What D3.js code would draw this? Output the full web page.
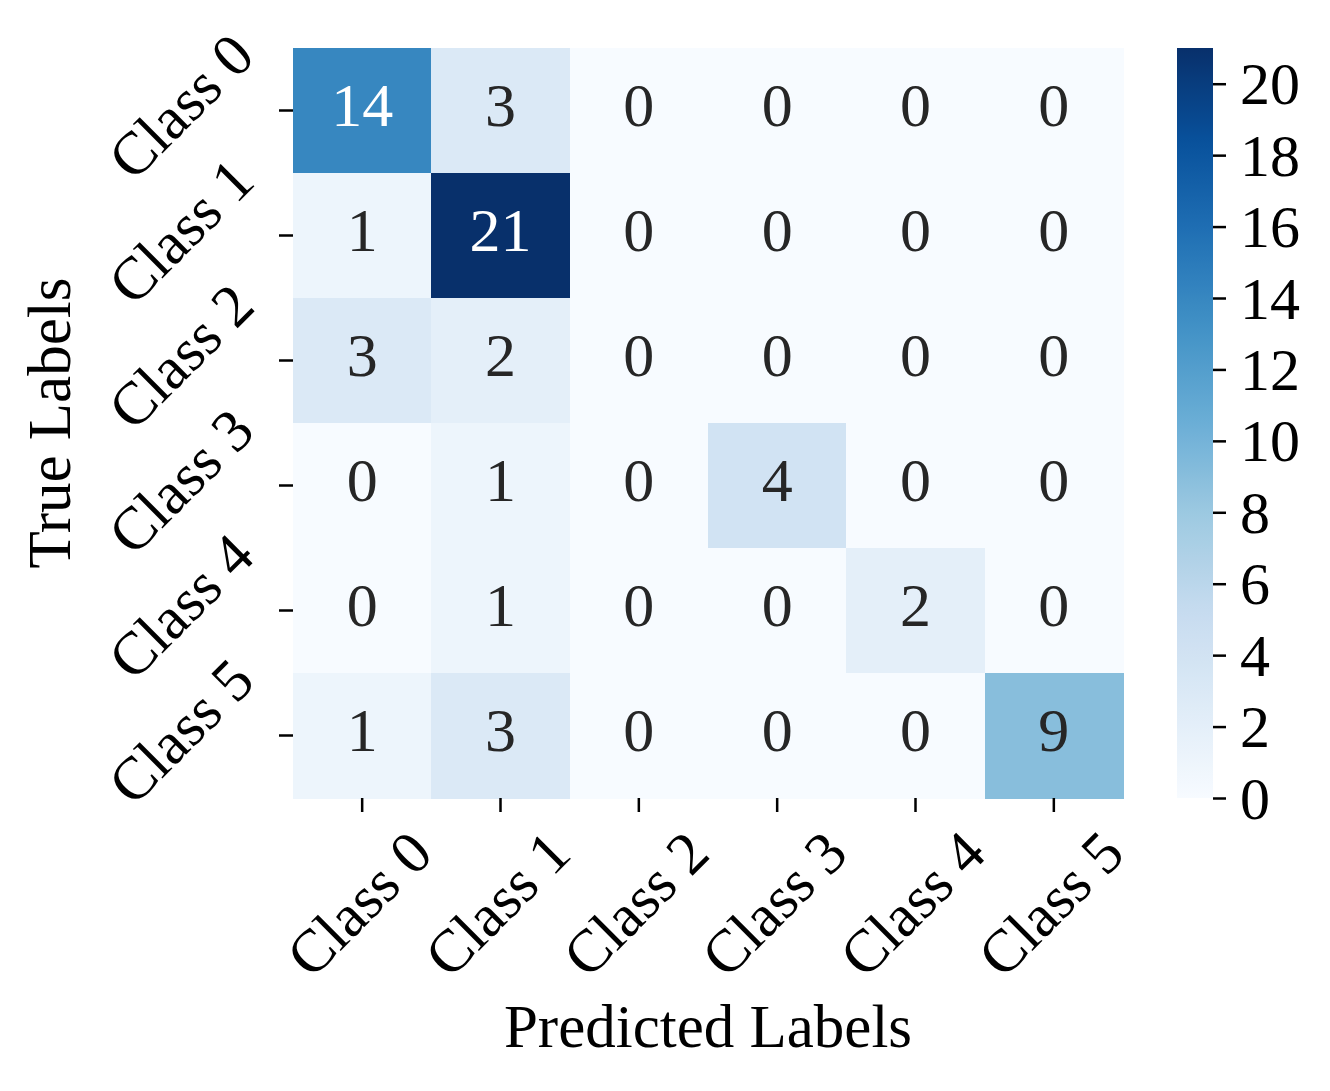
<!DOCTYPE html>
<html>
<head>
<meta charset="utf-8">
<script src="https://cdn.jsdelivr.net/npm/d3@7"></script>
<style>
  html, body { margin: 0; padding: 0; background: #ffffff; }
  svg { display: block; }
  text { font-family: "Liberation Serif", "Times New Roman", serif; }
</style>
</head>
<body>
<script>
// ---- Data ----
const predictedClasses = ["Class 0", "Class 1", "Class 2", "Class 3", "Class 4", "Class 5"];
const trueClasses = ["Class 0", "Class 1", "Class 2", "Class 3", "Class 4", "Class 5"];
const row0 = [14, 3, 0, 0, 0, 0];
const row1 = [1, 21, 0, 0, 0, 0];
const row2 = [3, 2, 0, 0, 0, 0];
const row3 = [0, 1, 0, 4, 0, 0];
const row4 = [0, 1, 0, 0, 2, 0];
const row5 = [1, 3, 0, 0, 0, 9];
const colorbarTicks = [0, 2, 4, 6, 8, 10, 12, 14, 16, 18, 20];
const xAxisTitle = "Predicted Labels";
const yAxisTitle = "True Labels";

const matrix = [row0, row1, row2, row3, row4, row5];
const vmin = 0, vmax = d3.max(matrix.flat());

// ---- Layout ----
const W = 1330, H = 1091;
const plot = { left: 293, right: 1123, top: 48, bottom: 798 };
const cbar = { left: 1177, right: 1213 };

const svg = d3.select("body").append("svg").attr("width", W).attr("height", H);

// matplotlib Blues (linear segmented over ColorBrewer 9)
const bluesStops = ["#f7fbff","#deebf7","#c6dbef","#9ecae1","#6baed6","#4292c6","#2171b5","#08519c","#08306b"];
const bluesScale = d3.scaleLinear()
  .domain(d3.range(bluesStops.length).map(i => i / (bluesStops.length - 1)))
  .range(bluesStops)
  .interpolate(d3.interpolateRgb)
  .clamp(true);
const color = v => bluesScale((v - vmin) / (vmax - vmin));

const x = d3.scaleBand().domain(predictedClasses).range([plot.left, plot.right]).padding(0);
const y = d3.scaleBand().domain(trueClasses).range([plot.top, plot.bottom]).padding(0);

const cells = [];
matrix.forEach((row, i) => row.forEach((v, j) => cells.push({ r: trueClasses[i], c: predictedClasses[j], v })));

svg.append("g").selectAll("rect").data(cells).join("rect")
  .attr("x", d => x(d.c))
  .attr("y", d => y(d.r))
  .attr("width", x.bandwidth() + 0.5)
  .attr("height", y.bandwidth() + 0.5)
  .attr("fill", d => color(d.v))
  .attr("shape-rendering", "crispEdges");

function textColor(v) {
  const c = d3.rgb(color(v));
  const lin = ch => { ch /= 255; return ch <= 0.03928 ? ch / 12.92 : Math.pow((ch + 0.055) / 1.055, 2.4); };
  const lum = 0.2126 * lin(c.r) + 0.7152 * lin(c.g) + 0.0722 * lin(c.b);
  return lum > 0.408 ? "#262626" : "#ffffff";
}

svg.append("g").selectAll("text").data(cells).join("text")
  .attr("x", d => x(d.c) + x.bandwidth() / 2)
  .attr("y", d => y(d.r) + y.bandwidth() / 2 - 6)
  .attr("text-anchor", "middle")
  .attr("dominant-baseline", "central")
  .attr("font-size", 62)
  .attr("fill", d => textColor(d.v))
  .text(d => d.v);

// ---- X axis ----
const xAxis = d3.axisBottom(x).tickSize(14).tickPadding(0).tickSizeOuter(0);
const gx = svg.append("g").attr("transform", `translate(0,${plot.bottom})`).call(xAxis);
gx.select(".domain").remove();
gx.selectAll(".tick line").attr("stroke", "#000").attr("stroke-width", 2.5);
gx.selectAll(".tick text")
  .attr("font-size", 60)
  .attr("fill", "#000")
  .attr("text-anchor", "middle")
  .attr("dominant-baseline", "central")
  .attr("y", 0)
  .attr("dy", null)
  .attr("transform", "translate(-3,106) rotate(-45)");

// ---- Y axis ----
const yAxis = d3.axisLeft(y).tickSize(14).tickPadding(0).tickSizeOuter(0);
const gy = svg.append("g").attr("transform", `translate(${plot.left},0)`).call(yAxis);
gy.select(".domain").remove();
gy.selectAll(".tick line").attr("stroke", "#000").attr("stroke-width", 2.5);
gy.selectAll(".tick text")
  .attr("font-size", 60)
  .attr("fill", "#000")
  .attr("text-anchor", "middle")
  .attr("dominant-baseline", "central")
  .attr("x", 0)
  .attr("dy", null)
  .attr("transform", "translate(-112,-4) rotate(-45)");

// ---- Axis titles ----
svg.append("text")
  .attr("x", (plot.left + plot.right) / 2)
  .attr("y", 1047)
  .attr("text-anchor", "middle")
  .attr("font-size", 61)
  .attr("fill", "#000")
  .text(xAxisTitle);

svg.append("text")
  .attr("transform", `translate(70,${(plot.top + plot.bottom) / 2}) rotate(-90)`)
  .attr("text-anchor", "middle")
  .attr("font-size", 61)
  .attr("fill", "#000")
  .text(yAxisTitle);

// ---- Colorbar ----
const defs = svg.append("defs");
const grad = defs.append("linearGradient").attr("id", "cbgrad")
  .attr("x1", "0").attr("y1", "1").attr("x2", "0").attr("y2", "0");
d3.range(0, 1.0001, 0.02).forEach(t => {
  grad.append("stop").attr("offset", t).attr("stop-color", bluesScale(t));
});
svg.append("rect")
  .attr("x", cbar.left).attr("y", plot.top)
  .attr("width", cbar.right - cbar.left).attr("height", plot.bottom - plot.top)
  .attr("fill", "url(#cbgrad)");

const cy = d3.scaleLinear().domain([vmin, vmax]).range([plot.bottom, plot.top]);
const cAxis = d3.axisRight(cy).tickValues(colorbarTicks).tickSize(13).tickPadding(14).tickSizeOuter(0);
const gc = svg.append("g").attr("transform", `translate(${cbar.right},0)`).call(cAxis);
gc.select(".domain").remove();
gc.selectAll(".tick line").attr("stroke", "#000").attr("stroke-width", 2.5);
gc.selectAll(".tick text")
  .attr("font-size", 60)
  .attr("fill", "#000")
  .attr("dy", null)
  .attr("dominant-baseline", "central");
</script>
</body>
</html>
